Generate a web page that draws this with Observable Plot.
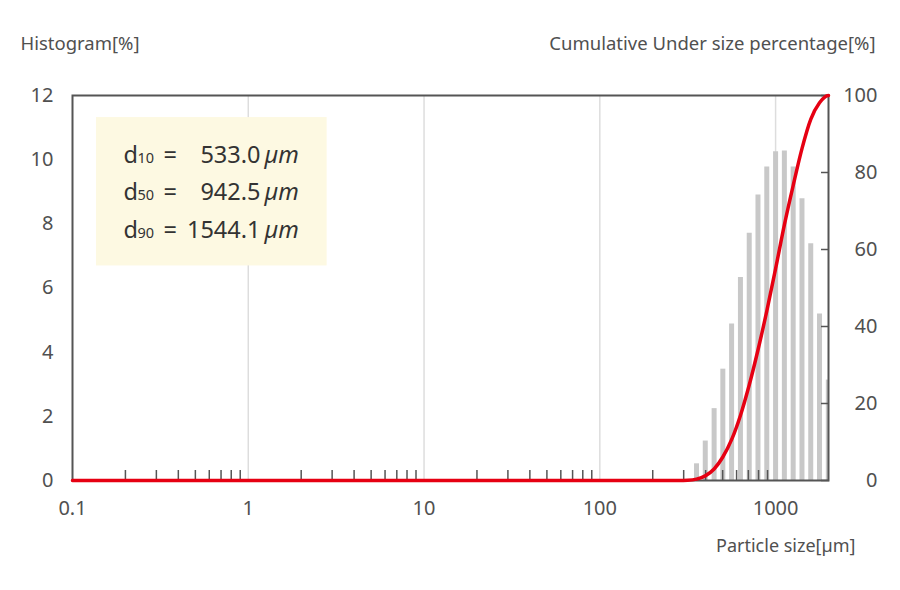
<!DOCTYPE html>
<html><head><meta charset="utf-8">
<script src="https://cdn.jsdelivr.net/npm/d3@7"></script>
<script src="https://cdn.jsdelivr.net/npm/@observablehq/plot@0.6"></script>
<style>
body{margin:0;background:#fff;}
#chart{width:900px;height:590px;}
</style></head><body><div id="chart"></div>
<script>
// Histogram bins (particle size in µm, bin centre) and frequency [%]
const binSizes = [355, 398, 447, 501, 562, 631, 708, 794, 891, 1000, 1122, 1259, 1413, 1585, 1778, 1995];
const binPercents = [0.52, 1.23, 2.24, 3.47, 4.88, 6.33, 7.71, 8.90, 9.77, 10.25, 10.27, 9.77, 8.78, 7.38, 5.19, 3.13];
// Cumulative under-size curve
const cumSizes = [0.1, 282, 316, 355, 398, 447, 501, 562, 631, 708, 794, 891, 1000, 1122, 1259, 1413, 1585, 1778, 1995, 2000];
const cumPercents = [0, 0, 0.05, 0.35, 1.2, 3.0, 6.1, 10.6, 16.9, 24.8, 33.9, 44.0, 55.0, 66.4, 76.6, 86.2, 93.8, 98.1, 100, 100];
// Axis ticks
const majorTicks = [0.1, 1, 10, 100, 1000];
const minorTicks = [0.2, 0.3, 0.4, 0.5, 0.6, 0.7, 0.8, 0.9, 2, 3, 4, 5, 6, 7, 8, 9, 20, 30, 40, 50, 60, 70, 80, 90, 200, 300, 400, 500, 600, 700, 800, 900];
const leftTicks = [0, 2, 4, 6, 8, 10, 12];
const rightTicks = [0, 20, 40, 60, 80, 100];
// Statistics box
const dSubs = ["10", "50", "90"];
const dValues = ["533.0", "942.5", "1544.1"];

const FONT = '"Noto Sans", "Noto Sans CJK JP", sans-serif';
const TXT = "#505050";
const k = 12 / 100; // cumulative % -> histogram axis units

const bars = binSizes.map((s, i) => ({size: s, pct: binPercents[i]}));
const cum = cumSizes.map((s, i) => ({size: s, pct: cumPercents[i]}));
const stats = dSubs.map((s, i) => ({sub: s, value: dValues[i], row: i}));
const rowY = i => 9.906 - i * 1.172;

const statText = (text, dx, extra = {}) =>
  Plot.text(stats, {y: d => rowY(d.row), text, frameAnchor: "left", dx, textAnchor: "start",
    lineAnchor: "bottom", fontSize: 23.5, fill: "#333", ...extra});

const plot = Plot.plot({
  width: 900, height: 590,
  marginLeft: 72, marginRight: 72, marginTop: 95, marginBottom: 110,
  style: {fontFamily: FONT, color: TXT, background: "#fff"},
  x: {type: "log", domain: [0.1, 2000], label: null},
  y: {domain: [0, 12], label: null},
  marks: [
    Plot.ruleX(majorTicks.slice(1), {stroke: "#dddddd", strokeWidth: 1.5}),
    Plot.rect([0], {x1: 0.1369, x2: 2.81, y1: 6.6875, y2: 11.3125, fill: "#fdf9e2"}),
    Plot.ruleX(bars, {x: "size", y1: 0, y2: "pct", stroke: "#c8c8c8", strokeWidth: 5, clip: true}),
    Plot.axisX(minorTicks, {tickSize: -10, tickFormat: () => "", stroke: "#555", strokeWidth: 1.5, label: null}),
    Plot.axisX(majorTicks, {tickSize: 0, tickPadding: 20, fontSize: 20, fill: TXT, tickFormat: d => String(d), label: null}),
    Plot.axisY(leftTicks, {tickSize: 0, tickPadding: 19, fontSize: 20, fill: TXT, label: null}),
    Plot.axisY(rightTicks.map(v => v * k), {anchor: "right", tickSize: -8, tickFormat: () => "", stroke: "#555", strokeWidth: 1.5, label: null}),
    Plot.text(rightTicks, {y: d => d * k, text: d => String(d), frameAnchor: "right", dx: 49, textAnchor: "end", fontSize: 20, fill: TXT}),
    Plot.frame({stroke: "#555", strokeWidth: 2}),
    Plot.line(cum, {x: "size", y: d => d.pct * k, stroke: "#e60012", strokeWidth: 3.5, curve: "monotone-x"}),
    // statistics box text
    statText(() => "d", 51),
    statText(d => d.sub, 65, {fontSize: 14.5}),
    statText(() => "=", 91),
    statText(d => d.value, 188, {textAnchor: "end"}),
    statText(() => "\u00b5m", 192, {fontStyle: "italic"}),
    // titles
    Plot.text(["Histogram[%]"], {frameAnchor: "top-left", dx: -52, dy: -45.5, lineAnchor: "bottom", textAnchor: "start", fontSize: 18.5, fill: TXT}),
    Plot.text(["Cumulative Under size percentage[%]"], {frameAnchor: "top-right", dx: 47, dy: -45.5, lineAnchor: "bottom", textAnchor: "end", fontSize: 18.5, fill: TXT}),
    Plot.text(["Particle size[\u00b5m]"], {frameAnchor: "bottom-right", dx: 27, dy: 71, lineAnchor: "bottom", textAnchor: "end", fontSize: 18, fill: TXT})
  ]
});
document.getElementById("chart").appendChild(plot);
</script></body></html>
